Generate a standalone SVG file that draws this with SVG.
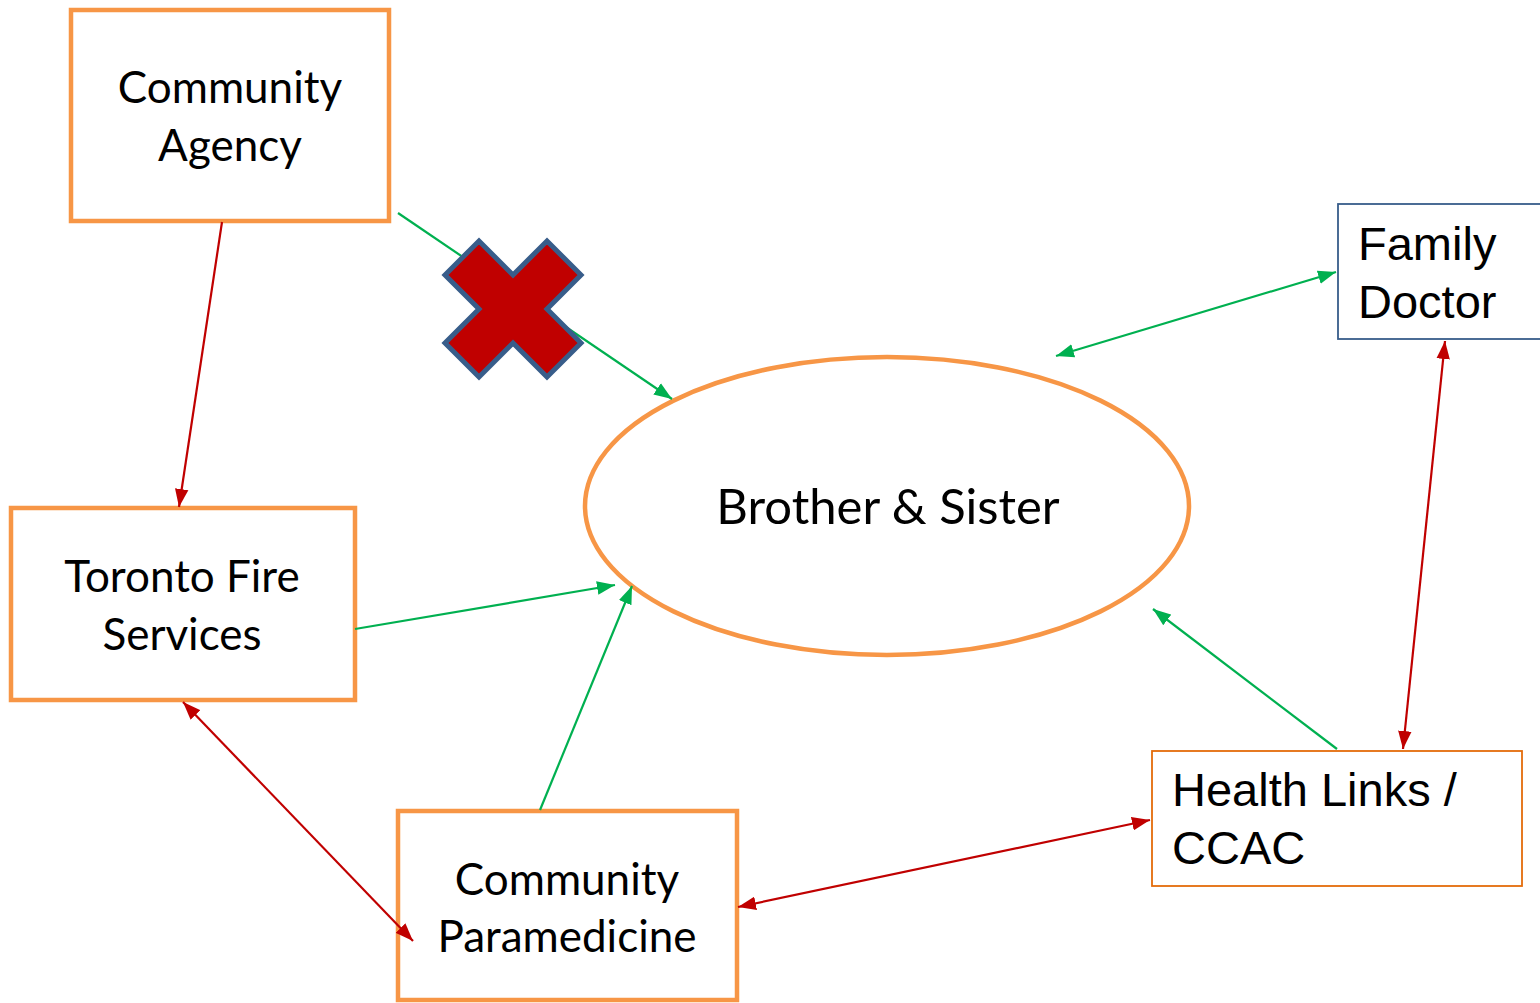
<svg xmlns="http://www.w3.org/2000/svg" width="1540" height="1003" viewBox="0 0 1540 1003">
<style>
.box{fill:#fff;stroke:#F79646;stroke-width:4.5}
.cal{font-family:Lato,"Liberation Sans",sans-serif;font-size:44px;fill:#000;text-anchor:middle}
.ari{font-family:"Liberation Sans",Arial,sans-serif;font-size:47px;fill:#000}
.g{stroke:#00B050;stroke-width:2.2;fill:none}
.r{stroke:#C00000;stroke-width:2.2;fill:none}
</style>
<defs>
<marker id="ag" markerUnits="userSpaceOnUse" markerWidth="18" markerHeight="14" refX="16" refY="6" orient="auto-start-reverse" viewBox="0 0 16 12"><path d="M0,0 L16,6 L0,12 Z" fill="#00B050"/></marker>
<marker id="ar" markerUnits="userSpaceOnUse" markerWidth="18" markerHeight="14" refX="16" refY="6" orient="auto-start-reverse" viewBox="0 0 16 12"><path d="M0,0 L16,6 L0,12 Z" fill="#C00000"/></marker>
</defs>
<rect width="1540" height="1003" fill="#fff"/>
<g id="community-agency">
<rect class="box" x="71" y="10" width="318" height="211"/>
<text class="cal" x="230" y="103">Community</text>
<text class="cal" x="230" y="161">Agency</text>
</g>
<g id="toronto-fire">
<rect class="box" x="11" y="508" width="344" height="192"/>
<text class="cal" x="182" y="592">Toronto Fire</text>
<text class="cal" x="182" y="650">Services</text>
</g>
<g id="paramedicine">
<rect class="box" x="398" y="811" width="339" height="189"/>
<text class="cal" x="567" y="895">Community</text>
<text class="cal" x="567" y="952">Paramedicine</text>
</g>
<g id="brother-sister">
<ellipse cx="887" cy="506" rx="302" ry="149" fill="#fff" stroke="#F79646" stroke-width="4.5"/>
<text class="cal" x="888" y="524" style="font-size:49px">Brother &amp; Sister</text>
</g>
<g id="family-doctor">
<rect x="1338" y="204" width="210" height="135" fill="#fff" stroke="#385D8A" stroke-width="1.8"/>
<text class="ari" x="1358" y="260">Family</text>
<text class="ari" x="1358" y="318">Doctor</text>
</g>
<g id="health-links">
<rect x="1152" y="751" width="370" height="135" fill="#fff" stroke="#E46C0A" stroke-width="1.8"/>
<text class="ari" x="1172" y="806">Health Links /</text>
<text class="ari" x="1172" y="864">CCAC</text>
</g>
<g id="connectors">
<line class="g" x1="398" y1="213" x2="672" y2="399" marker-end="url(#ag)"/>
<line class="g" x1="1056" y1="356" x2="1336" y2="272" marker-start="url(#ag)" marker-end="url(#ag)"/>
<line class="r" x1="1445" y1="341" x2="1403" y2="749" marker-start="url(#ar)" marker-end="url(#ar)"/>
<line class="g" x1="1337" y1="749" x2="1153" y2="609" marker-end="url(#ag)"/>
<line class="r" x1="1150" y1="820" x2="738" y2="907" marker-start="url(#ar)" marker-end="url(#ar)"/>
<line class="g" x1="540" y1="810" x2="632" y2="586" marker-end="url(#ag)"/>
<line class="g" x1="355" y1="629" x2="615" y2="585" marker-end="url(#ag)"/>
<line class="r" x1="183" y1="702" x2="413" y2="941" marker-start="url(#ar)" marker-end="url(#ar)"/>
<line class="r" x1="222" y1="222" x2="179" y2="507" marker-end="url(#ar)"/>
</g>
<g id="cross">
<polygon transform="translate(513,309)" points="0,-34 34,-68 68,-34 34,0 68,34 34,68 0,34 -34,68 -68,34 -34,0 -68,-34 -34,-68" fill="#C00000" stroke="#385D8A" stroke-width="5" stroke-linejoin="miter"/>
</g>
</svg>
